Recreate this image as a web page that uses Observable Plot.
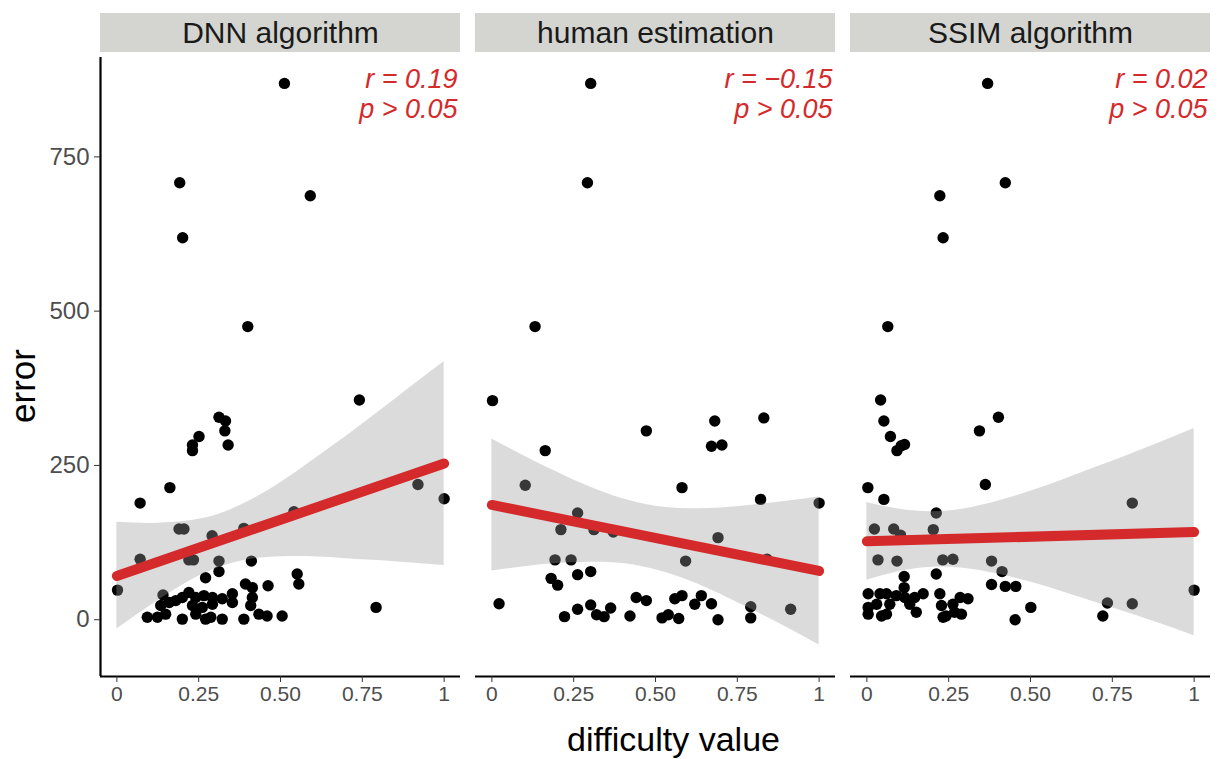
<!DOCTYPE html>
<html>
<head>
<meta charset="utf-8">
<script src="https://cdn.jsdelivr.net/npm/d3@7"></script>
<script src="https://cdn.jsdelivr.net/npm/@observablehq/plot@0.6"></script>
<style>
  body { margin: 0; background: #fff; }
  #chart svg { font-family: "Liberation Sans", Arial, Helvetica, sans-serif; }
</style>
</head>
<body>
<div id="chart"></div>
<script>
// Panels (one per estimation method)
const methods = ["DNN algorithm", "human estimation", "SSIM algorithm"];

// DNN algorithm: difficulty value vs. error
const dnnDifficulty = [0.192, 0.591, 0.201, 0.400, 0.512, 0.741, 0.312, 0.332, 0.330, 0.251,
  0.231, 0.231, 0.340, 0.162, 0.071, 0.920, 1.000, 0.541, 0.190, 0.205,
  0.291, 0.388, 0.071, 0.220, 0.234, 0.312, 0.411, 0.312, 0.271, 0.551,
  0.556, 0.002, 0.393, 0.414, 0.462, 0.792, 0.141, 0.220, 0.200, 0.180,
  0.160, 0.241, 0.266, 0.292, 0.322, 0.353, 0.353, 0.414, 0.231, 0.261,
  0.292, 0.409, 0.134, 0.093, 0.124, 0.149, 0.200, 0.241, 0.271, 0.287,
  0.322, 0.388, 0.434, 0.459, 0.505];
const dnnError = [708, 687, 619, 475, 869, 356, 328, 322, 306, 297,
  283, 274, 283, 214, 189, 219, 196, 175, 147, 147,
  136, 148, 98, 97, 97, 95, 95, 78, 68, 74,
  58, 48, 58, 52, 55, 20, 40, 44, 36, 31,
  28, 36, 39, 36, 34, 42, 28, 36, 23, 20,
  25, 23, 23, 4, 4, 9, 1, 9, 1, 4,
  1, 1, 9, 6, 6];

// human estimation: difficulty value vs. error
const humanDifficulty = [0.292, 0.132, 0.302, 0.002, 0.681, 0.831, 0.472, 0.671, 0.703, 0.163,
  0.102, 0.581, 0.821, 1.000, 0.262, 0.211, 0.312, 0.371, 0.691, 0.592,
  0.841, 0.193, 0.242, 0.181, 0.201, 0.262, 0.302, 0.022, 0.222, 0.262,
  0.302, 0.320, 0.343, 0.363, 0.422, 0.441, 0.472, 0.520, 0.539, 0.571,
  0.559, 0.581, 0.620, 0.640, 0.671, 0.691, 0.791, 0.791, 0.913];
const humanError = [708, 475, 869, 355, 322, 327, 306, 281, 283, 274,
  218, 214, 195, 189, 173, 146, 146, 142, 133, 95,
  98, 97, 97, 67, 56, 73, 78, 26, 5, 17,
  24, 8, 5, 19, 6, 36, 31, 3, 8, 2,
  34, 39, 25, 39, 26, 0, 21, 3, 17];

// SSIM algorithm: difficulty value vs. error
const ssimDifficulty = [0.423, 0.223, 0.233, 0.064, 0.369, 0.042, 0.052, 0.402, 0.344, 0.072,
  0.105, 0.115, 0.092, 0.003, 0.362, 0.052, 0.811, 0.212, 0.023, 0.082,
  0.103, 0.203, 0.034, 0.092, 0.232, 0.263, 0.381, 0.413, 0.212, 0.114,
  0.381, 0.423, 0.455, 1.000, 0.735, 0.811, 0.721, 0.501, 0.453, 0.004,
  0.004, 0.004, 0.040, 0.060, 0.030, 0.070, 0.090, 0.114, 0.116, 0.131,
  0.146, 0.172, 0.151, 0.060, 0.045, 0.223, 0.228, 0.263, 0.309, 0.285,
  0.268, 0.233, 0.242, 0.289];
const ssimError = [708, 687, 619, 475, 869, 356, 322, 328, 306, 297,
  282, 284, 274, 214, 219, 195, 189, 173, 147, 147,
  137, 146, 97, 95, 97, 98, 95, 78, 74, 70,
  57, 54, 54, 48, 27, 26, 6, 20, 0, 42,
  20, 9, 42, 42, 25, 25, 39, 52, 36, 25,
  36, 42, 12, 9, 6, 42, 23, 25, 34, 36,
  12, 4, 6, 9];

// Linear fit: predicted error at difficulty 0 and 1
const fitAtZero = [71, 186, 127];
const fitAtOne = [253, 79, 142];

// 95% confidence band of the fit
const bandDifficulty = [0, 0.1, 0.2, 0.3, 0.4, 0.5, 0.6, 0.7, 0.8, 0.9, 1];
const dnnBandLow = [-15, 22, 56, 82, 97, 102, 102, 99, 96, 92, 88];
const dnnBandHigh = [158, 156, 159, 169, 191, 222, 259, 297, 337, 378, 418];
const humanBandLow = [79, 86, 91, 93, 91, 81, 64, 41, 15, -12, -41];
const humanBandHigh = [293, 265, 239, 215, 196, 184, 180, 181, 186, 192, 199];
const ssimBandLow = [64, 78, 85, 83, 74, 61, 45, 28, 11, -7, -26];
const ssimBandHigh = [190, 179, 175, 180, 192, 208, 227, 247, 267, 288, 310];

// Correlation annotations
const corrR = ["0.19", "\u22120.15", "0.02"];
const corrP = ["0.05", "0.05", "0.05"];

// Axis ticks
const xTicks = [0, 0.25, 0.5, 0.75, 1];
const xTickLabels = ["0", "0.25", "0.50", "0.75", "1"];
const yTicks = [0, 250, 500, 750];

// Tables for the marks
const difficulties = [dnnDifficulty, humanDifficulty, ssimDifficulty];
const errors = [dnnError, humanError, ssimError];
const bandLows = [dnnBandLow, humanBandLow, ssimBandLow];
const bandHighs = [dnnBandHigh, humanBandHigh, ssimBandHigh];

const points = methods.flatMap((m, i) =>
  difficulties[i].map((d, j) => ({method: m, difficulty: d, error: errors[i][j]})));
const band = methods.flatMap((m, i) =>
  bandDifficulty.map((d, j) => ({method: m, difficulty: d, lo: bandLows[i][j], hi: bandHighs[i][j]})));
const fit = methods.flatMap((m, i) => [
  {method: m, difficulty: 0, error: fitAtZero[i]},
  {method: m, difficulty: 1, error: fitAtOne[i]}
]);
const notes = methods.map((m, i) => ({method: m, text: `r = ${corrR[i]}\np > ${corrP[i]}`}));

const xDomain = [-0.05, 1.05];
const yDomain = [-92, 911];
const red = "#d42a2c";

const chart = Plot.plot({
  width: 1218,
  height: 759,
  marginLeft: 100,
  marginRight: 8,
  marginTop: 57,
  marginBottom: 83,
  fx: {domain: methods, paddingInner: 0.04, paddingOuter: 0, axis: null, label: null},
  x: {domain: xDomain, axis: null},
  y: {domain: yDomain, axis: null},
  marks: [
    // scatter of individual images
    Plot.dot(points, {fx: "method", x: "difficulty", y: "error", r: 5.7, fill: "#000"}),
    // confidence band (translucent, over the dots)
    Plot.areaY(band, {fx: "method", x: "difficulty", y1: "lo", y2: "hi",
      fill: "#9a9c9a", fillOpacity: 0.36, curve: "natural"}),
    // fitted regression line
    Plot.line(fit, {fx: "method", x: "difficulty", y: "error", stroke: red, strokeWidth: 10}),
    // facet strips
    Plot.rect(methods, {fx: d => d, x1: xDomain[0], x2: xDomain[1], y1: yDomain[1], y2: yDomain[1],
      insetTop: -44, insetBottom: 5, fill: "#d4d5d0"}),
    Plot.text(methods, {fx: d => d, frameAnchor: "top", lineAnchor: "middle", dy: -24, text: d => d,
      fontSize: 30, fill: "#1a1a1a"}),
    // correlation annotation
    Plot.text(notes, {fx: "method", frameAnchor: "top-right", text: "text", textAnchor: "end",
      lineAnchor: "top", dx: -3, dy: 9, fontSize: 27, fontStyle: "italic", lineHeight: 1.12, fill: red}),
    // axis lines
    Plot.ruleY(methods, {fx: d => d, y: yDomain[0], stroke: "#000", strokeWidth: 2.2}),
    Plot.ruleX(methods.slice(0, 1), {fx: d => d, x: xDomain[0], stroke: "#000", strokeWidth: 2.2}),
    // axes
    Plot.axisX(xTicks, {tickSize: 6, tickPadding: 4, fontSize: 21, stroke: "#333", fill: "#4d4d4d",
      tickFormat: d => xTickLabels[xTicks.indexOf(d)], label: null}),
    Plot.axisY(yTicks, {tickSize: 6, tickPadding: 5, fontSize: 24, stroke: "#333", fill: "#4d4d4d",
      label: null}),
    // axis titles
    Plot.text(["error"], {fx: () => methods[0], frameAnchor: "left", textAnchor: "middle",
      lineAnchor: "middle", rotate: -90, dx: -77, dy: 19, fontSize: 35, fill: "#000"}),
    Plot.text(["difficulty value"], {fx: () => methods[1], frameAnchor: "bottom", textAnchor: "middle",
      lineAnchor: "middle", dx: 18, dy: 64, fontSize: 34, fill: "#000"})
  ]
});

document.getElementById("chart").appendChild(chart);
</script>
</body>
</html>
